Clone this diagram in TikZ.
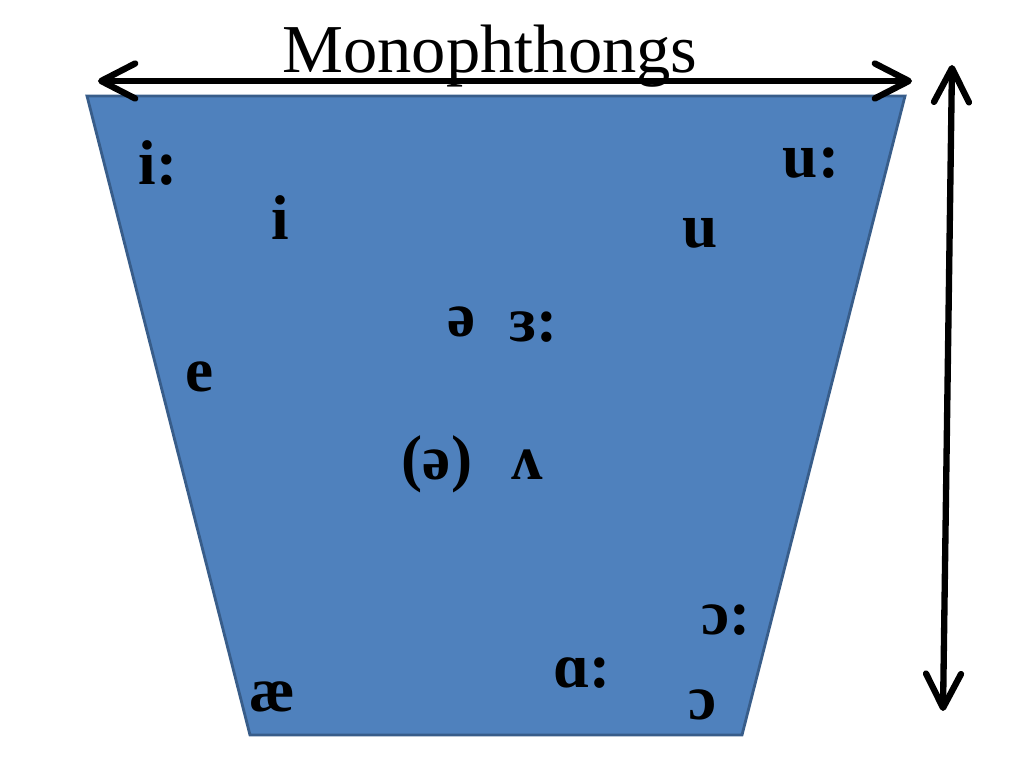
\documentclass[tikz,border=0pt]{standalone}
\usepackage{fontspec}
\setmainfont{Liberation Serif}
\usepackage{xcolor}
\definecolor{vblue}{HTML}{4F81BD}
\definecolor{vedge}{HTML}{385D8A}
\usetikzlibrary{arrows.meta}

\begin{document}
\begin{tikzpicture}[
        vowel/.style={anchor=base, font=\fontsize{18}{18}\selectfont\bfseries},
        bigarrow/.style={line width=1.8pt, {Straight Barb[length=3.4mm,width=3.5mm,round]}-{Straight Barb[length=3.4mm,width=3.5mm,round]}}
    ]
        \useasboundingbox (0, 0) rectangle (10.24, 7.68);
        \fill[vblue, draw=vedge, line width=0.8pt] (0.87, 6.72) coordinate (tl) -- (9.05, 6.72) coordinate (tr)
            -- (7.42, 0.33) coordinate (br) -- (2.50, 0.33) coordinate (bl) -- cycle;
        \coordinate (hl) at (0.98, 6.87);
        \coordinate (hr) at (9.12, 6.87);
        \coordinate (vt) at (9.52, 7.03);
        \coordinate (vb) at (9.43, 0.57);
        \draw[bigarrow] (hl) -- (hr);
        \draw[bigarrow] (vt) -- (vb);
        \node[anchor=base, font=\fontsize{19.5}{20}\selectfont] (title) at (4.90, 6.95) {Monophthongs};

        \node[vowel] (ilong) at (1.58, 5.83) {i:};
        \node[vowel] (ishort) at (2.80, 5.28) {i};
        \node[vowel] (ulong) at (8.11, 5.90) {u:};
        \node[vowel] (ushort) at (7.00, 5.20) {u};
        \node[vowel] (schwa) at (4.62, 4.31) {ə};
        \node[vowel] (erlong) at (5.34, 4.26) {ɜ:};
        \node[vowel] (e) at (2.00, 3.76) {e};
        \node[vowel] (schwab) at (4.37, 2.88) {(ə)};
        \node[vowel] (wedge) at (5.27, 2.88) {ʌ};
        \node[vowel] (olong) at (7.26, 1.33) {ɔ:};
        \node[vowel] (along) at (5.82, 0.80) {ɑ:};
        \node[vowel] (ash) at (2.72, 0.56) {æ};
        \node[vowel] (oshort) at (7.03, 0.48) {ɔ};
    \end{tikzpicture}
\end{document}
